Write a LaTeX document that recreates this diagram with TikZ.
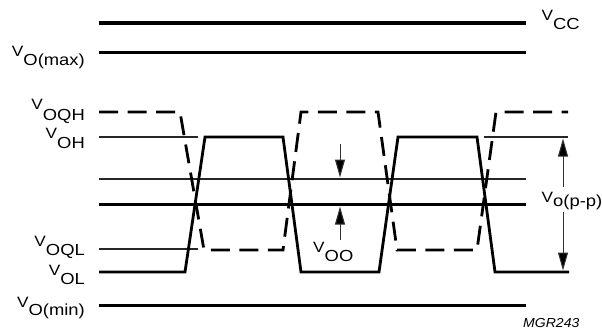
\documentclass[tikz,border=0pt]{standalone}
\usepackage{fontspec}
\setmainfont{Liberation Sans}
\usetikzlibrary{arrows.meta}
\newcommand{\lbl}[2]{\scalebox{1.15}[1]{\raisebox{#1}{\fontsize{15}{17}\selectfont V}#2}}
\tikzset{
  rail/.style={line width=3pt},
  thinline/.style={line width=1.1pt, black!85},
  wave/.style={line width=2.8pt, line join=miter},
  dwave/.style={line width=2.8pt, dash pattern=on 19pt off 9.5pt},
  lab/.style={inner sep=0pt, font=\fontsize{16}{18}\selectfont},
  dimarrow/.style={line width=1pt, black!80, -{Triangle[length=18pt,width=10pt,fill=black]}}
}
\begin{document}
\begin{tikzpicture}[x=1pt,y=-1pt]
\useasboundingbox (0,0) rectangle (602,335);
% rails
\draw[rail, line width=3.6pt] (99,23) -- (526,23);
\draw[rail] (99,52) -- (526,52);
\draw[rail] (99,204) -- (526,204);
\draw[rail] (99,305) -- (526,305);
% thin reference lines
\draw[thinline] (99,137) -- (198,137);
\draw[thinline] (484,137) -- (568,137);
\draw[thinline] (99,179) -- (526,179);
\draw[thinline] (99,249) -- (198,249);
% solid waveform
\draw[wave] (99,272) -- (185,272) -- (205,137) -- (283,137) -- (301,272)
  -- (379,272) -- (398,137) -- (477,137) -- (495,272) -- (569,272);
% dashed waveform
\draw[dwave] (99,112) -- (180,112) -- (204,250) -- (283,250) -- (301,112)
  -- (378,112) -- (397,250) -- (477,250) -- (496,112) -- (568,112);
% left labels (anchored at subscript baseline)
\node[lab, anchor=base east] (lmax) at (85,65) {\lbl{9pt}{O(max)}};
\node[lab, anchor=base east] (lqh) at (85,120) {\lbl{10.5pt}{OQH}};
\node[lab, anchor=base east] (loh) at (85,148.5) {\lbl{10pt}{OH}};
\node[lab, anchor=base east] (lql) at (85,255) {\lbl{8.5pt}{OQL}};
\node[lab, anchor=base east] (lol) at (85,284) {\lbl{9pt}{OL}};
\node[lab, anchor=base east] (lmin) at (85,315.5) {\lbl{8.5pt}{O(min)}};
% right labels
\node[lab, anchor=base west] (lcc) at (541.5,29.5) {\lbl{9pt}{CC}};
\node[lab, anchor=base west] (lpp) at (541.5,206.6) {\lbl{4.5pt}{o(p-p)}};
\node[lab, anchor=base west] (loo) at (313,261) {\lbl{8.7pt}{OO}};
\node[inner sep=0pt, anchor=base west, font=\fontsize{13}{15}\selectfont\itshape] (mgr) at (523,327.5) {\scalebox{1.08}[1]{MGR243}};
% VOO arrows
\coordinate (ooA) at (340,144);
\coordinate (ooB) at (340,177.5);
\coordinate (ooC) at (340,240);
\coordinate (ooD) at (340,206.5);
\draw[dimarrow] (ooA) -- (ooB);
\draw[dimarrow] (ooC) -- (ooD);
% Vo(p-p) arrows
\coordinate (ppA) at (563,187);
\coordinate (ppB) at (563,138.5);
\coordinate (ppC) at (563,212);
\coordinate (ppD) at (563,270.5);
\draw[dimarrow] (ppA) -- (ppB);
\draw[dimarrow] (ppC) -- (ppD);
\end{tikzpicture}
\end{document}
